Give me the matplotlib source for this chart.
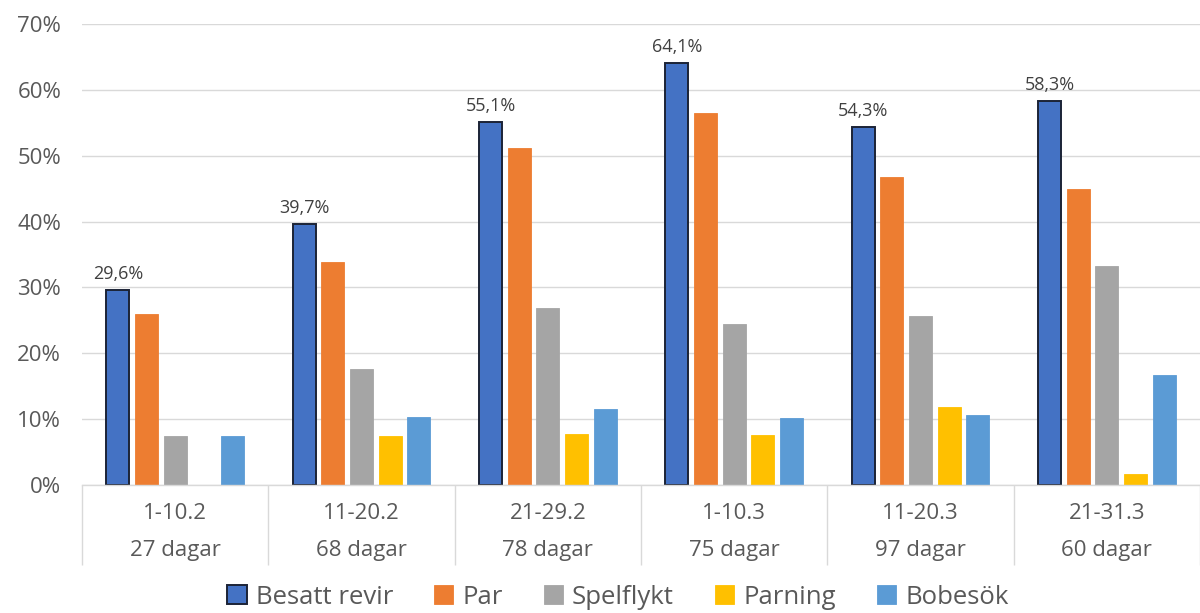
import matplotlib
matplotlib.use("Agg")
import matplotlib.pyplot as plt
import numpy as np

matplotlib.rc("font", **{'family': ["Open Sans", "DejaVu Sans"], 'size': 16})

periods = ["1-10.2", "11-20.2", "21-29.2", "1-10.3", "11-20.3", "21-31.3"]
days = ["27 dagar", "68 dagar", "78 dagar", "75 dagar", "97 dagar", "60 dagar"]

series_names = ["Besatt revir", "Par", "Spelflykt", "Parning", "Bobesök"]
besatt_revir = [29.6, 39.7, 55.1, 64.1, 54.3, 58.3]
par = [25.9, 33.8, 51.2, 56.5, 46.8, 45.0]
spelflykt = [7.4, 17.6, 26.9, 24.4, 25.6, 33.3]
parning = [0.0, 7.4, 7.7, 7.6, 11.8, 1.7]
bobesok = [7.4, 10.3, 11.5, 10.1, 10.6, 16.7]

colors = ["#4472C4", "#ED7D31", "#A5A5A5", "#FFC000", "#5B9BD5"]
GRID = "#D9D9D9"
TEXT = "#595959"

fig = plt.figure(figsize=(12, 6.13), dpi=100)
ax = fig.add_axes([82 / 1200, 128 / 613, 1118 / 1200, 461 / 613])

x = np.arange(len(periods))
step = 0.154
width = 0.124
values = [besatt_revir, par, spelflykt, parning, bobesok]

for i, (name, vals, c) in enumerate(zip(series_names, values, colors)):
    pos = x + (i - 2) * step
    if i == 0:
        bars = ax.bar(pos, vals, width, color=c, edgecolor="#1B2336", linewidth=1.4,
                      label=name, zorder=3)
        for b, v in zip(bars, vals):
            ax.annotate(f"{v:.1f}".replace(".", ",") + "%",
                        (b.get_x() + b.get_width() / 2, v),
                        xytext=(0, 5), textcoords="offset points",
                        ha="center", va="bottom", fontsize=13, color="#404040")
    else:
        ax.bar(pos, vals, width, color=c, edgecolor=c, linewidth=0.6,
               label=name, zorder=3)

ax.set_xlim(-0.5, len(periods) - 0.5)
ax.set_ylim(0, 70)
ax.set_yticks(range(0, 71, 10))
ax.set_yticklabels([f"{t}%" for t in range(0, 71, 10)])
ax.tick_params(axis="y", length=0, pad=15, colors=TEXT, labelsize=16)

# two-level category axis: period on first row, day count below
ax.set_xticks(x, periods)
ax.tick_params(axis="x", length=0, pad=13, colors=TEXT, labelsize=16)
xt = ax.get_xaxis_transform()
for xi, d in zip(x, days):
    ax.text(xi, -0.143, d, transform=xt, ha="center", va="center",
            fontsize=16, color=TEXT)
bounds = np.arange(len(periods) + 1) - 0.5
ax.vlines(bounds, 0, -80 / 461, transform=xt, colors=GRID, linewidth=1,
          clip_on=False)

ax.yaxis.grid(True, color=GRID, linewidth=1)
ax.set_axisbelow(True)
for side in ["top", "right", "left"]:
    ax.spines[side].set_visible(False)
ax.spines["bottom"].set_color(GRID)
ax.spines["bottom"].set_linewidth(1)
ax.spines["bottom"].set_zorder(4)

fig.legend(loc="center", bbox_to_anchor=(0.515, 0.026), ncol=5, frameon=False,
           fontsize=18.5, handlelength=0.75, handleheight=0.75,
           handletextpad=0.35, columnspacing=1.6, labelcolor=TEXT)

fig.savefig("out.png", dpi=100)
